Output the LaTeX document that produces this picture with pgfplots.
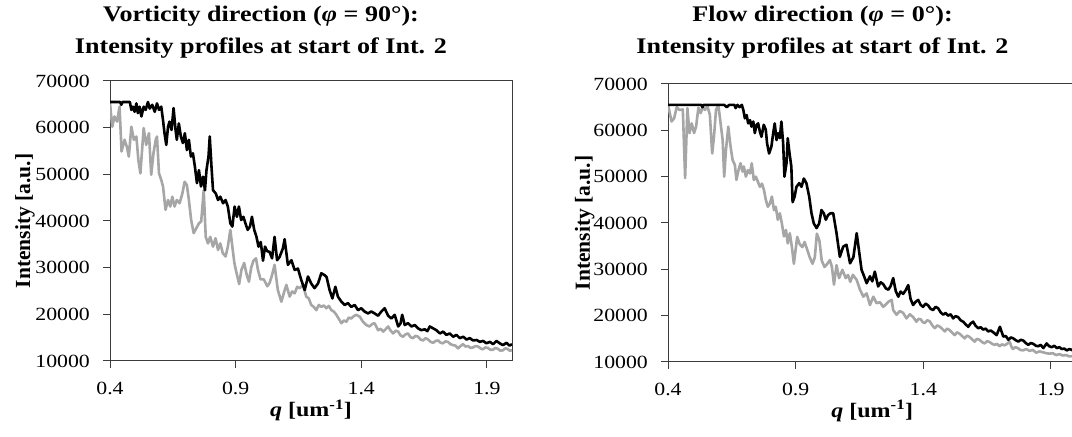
\documentclass[border=0pt]{standalone}
\usepackage{fontspec}
\setmainfont{Liberation Serif}[FakeStretch=1.17]
\newfontfamily\yfont{Liberation Serif}
\usepackage{pgfplots}
\pgfplotsset{compat=1.18}
\definecolor{lgray}{RGB}{166,166,166}
\definecolor{axgray}{RGB}{60,60,60}

\pgfplotsset{
  myaxis/.style={
    scale only axis,
    xmin=0.4, xmax=2.0, ymin=10000, ymax=70000,
    xtick={0.4,0.9,1.4,1.9}, xticklabels={0.4,0.9,1.4,1.9},
    ytick={10000,20000,30000,40000,50000,60000,70000},
    yticklabels={10000,20000,30000,40000,50000,60000,70000},
    scaled y ticks=false,
    tick align=outside, tick pos=left, major tick length=7bp,
    axis line style={axgray, line width=1bp},
    tick style={axgray, line width=1bp},
    ticklabel style={font=\fontsize{18.6bp}{20bp}\selectfont},
    yticklabel style={anchor=east, inner sep=0pt, xshift=-13bp},
    xticklabel style={anchor=base, inner sep=0pt, yshift=-27bp},
    xlabel={\textbf{\textit{q} [um\textsuperscript{-1}]}},
    ylabel={\yfont\bfseries Intensity [a.u.]},
    xlabel style={font=\fontsize{20.5bp}{24bp}\selectfont, at={(axis description cs:0.5,-0.199)}, anchor=base, inner sep=0pt},
    ylabel style={font=\fontsize{21.5bp}{24bp}\selectfont, anchor=base, inner sep=0pt},
    every axis plot/.append style={line width=2.6bp, line join=round, mark=none},
  }
}

\begin{document}
\begin{tikzpicture}[x=1bp,y=1bp]
\node[anchor=base, font=\fontsize{22.3bp}{26bp}\selectfont\bfseries] at (261,415.7) {Vorticity direction (\textit{φ} = 90°):};
\node[anchor=base, font=\fontsize{22.3bp}{26bp}\selectfont\bfseries] at (261,383.6) {Intensity profiles at start of Int. 2};
\node[anchor=base, font=\fontsize{22.3bp}{26bp}\selectfont\bfseries] at (822.5,415.7) {Flow direction (\textit{φ} = 0°):};
\node[anchor=base, font=\fontsize{22.3bp}{26bp}\selectfont\bfseries] at (822.5,383.6) {Intensity profiles at start of Int. 2};

\begin{axis}[myaxis, at={(110bp,76bp)}, anchor=south west, width=402bp, height=280bp,
  ylabel style={at={(axis description cs:-0.199,0.5)}}]
\addplot[lgray] coordinates {
(0.400,65200)(0.409,60200)(0.418,62400)(0.428,61300)(0.438,64500)(0.446,54900)(0.458,57400)(0.467,55900)(0.475,53800)(0.485,60200)(0.495,57400)(0.505,58100)(0.513,53000)(0.521,50200)(0.534,59900)(0.544,56300)(0.555,58800)(0.564,49900)(0.573,54500)(0.582,57400)(0.587,58100)(0.595,50200)(0.604,48800)(0.611,47400)(0.621,42400)(0.631,44500)(0.640,43100)(0.648,45200)(0.657,43100)(0.666,44500)(0.677,43800)(0.688,45900)(0.697,48400)(0.706,47700)(0.714,44500)(0.723,40200)(0.733,37400)(0.743,38400)(0.754,39500)(0.763,39900)(0.773,46600)(0.781,36600)(0.790,35200)(0.799,36600)(0.810,34500)(0.820,36300)(0.830,33800)(0.839,35200)(0.849,33100)(0.860,32400)(0.869,34500)(0.879,38100)(0.887,34500)(0.895,31000)(0.903,29000)(0.914,26500)(0.923,29500)(0.934,31000)(0.944,28500)(0.953,27000)(0.962,30000)(0.971,31500)(0.981,32000)(0.989,29500)(0.999,27500)(1.012,27500)(1.026,26000)(1.035,26700)(1.045,28400)(1.055,30600)(1.068,25200)(1.082,22700)(1.092,24600)(1.102,26300)(1.115,23800)(1.125,24900)(1.135,24500)(1.145,25900)(1.155,25600)(1.168,26300)(1.181,23800)(1.191,23400)(1.201,22000)(1.211,21600)(1.221,20900)(1.231,22000)(1.241,21600)(1.251,21900)(1.261,21300)(1.271,21800)(1.281,20900)(1.291,20600)(1.301,19900)(1.311,19000)(1.321,18100)(1.331,18700)(1.341,18400)(1.350,19300)(1.360,19100)(1.370,19600)(1.380,19900)(1.394,19500)(1.407,18400)(1.420,17700)(1.433,17400)(1.443,17900)(1.453,18100)(1.467,16600)(1.477,16900)(1.487,16300)(1.497,16800)(1.507,17400)(1.517,16500)(1.527,15900)(1.537,16500)(1.547,16300)(1.556,15500)(1.566,15200)(1.576,15700)(1.586,15900)(1.596,15100)(1.606,14900)(1.616,15400)(1.626,15200)(1.636,14600)(1.646,14400)(1.656,14900)(1.666,14600)(1.676,14100)(1.686,13900)(1.696,14300)(1.706,14400)(1.716,13900)(1.725,13800)(1.735,14200)(1.745,14100)(1.755,13600)(1.765,13400)(1.775,13300)(1.785,12700)(1.795,13200)(1.805,13600)(1.815,13100)(1.825,13200)(1.835,12800)(1.845,12900)(1.855,13200)(1.865,13100)(1.875,12700)(1.884,12500)(1.894,12900)(1.904,12800)(1.914,12400)(1.924,12400)(1.934,12800)(1.944,12600)(1.954,12200)(1.964,12300)(1.973,12700)(1.982,12600)(1.991,12200)(2.000,12300)
};
\addplot[black] coordinates {
(0.400,65500)(0.420,65500)(0.440,65500)(0.445,64900)(0.450,65500)(0.479,65500)(0.485,63800)(0.491,64500)(0.498,63400)(0.505,65200)(0.511,63100)(0.518,64500)(0.525,62400)(0.534,64500)(0.542,63800)(0.551,65500)(0.558,64100)(0.568,64900)(0.578,63400)(0.587,65200)(0.595,63800)(0.604,64500)(0.611,61600)(0.617,58800)(0.624,56300)(0.631,60200)(0.637,61300)(0.645,59500)(0.653,64200)(0.661,59500)(0.666,57400)(0.674,60900)(0.682,58100)(0.690,56700)(0.698,58800)(0.706,55200)(0.714,57400)(0.722,53800)(0.730,54500)(0.738,51600)(0.746,48100)(0.754,50900)(0.762,47400)(0.770,49500)(0.778,46600)(0.784,50900)(0.792,53800)(0.797,58100)(0.804,51600)(0.810,46600)(0.821,45900)(0.830,44500)(0.839,45200)(0.850,43800)(0.860,44500)(0.869,43100)(0.879,39500)(0.887,38800)(0.896,43100)(0.905,40900)(0.913,43100)(0.922,40200)(0.931,40900)(0.939,39500)(0.948,38100)(0.957,38800)(0.965,40900)(0.974,38100)(0.983,36600)(0.991,34500)(1.000,35500)(1.009,31500)(1.017,34500)(1.026,33500)(1.035,33400)(1.045,32000)(1.055,36600)(1.065,31600)(1.075,32300)(1.088,34100)(1.095,36100)(1.108,30600)(1.122,31600)(1.135,29500)(1.148,29800)(1.161,27400)(1.175,25200)(1.188,28100)(1.201,26600)(1.214,25600)(1.228,26600)(1.241,28800)(1.254,28400)(1.262,28000)(1.274,25200)(1.285,23400)(1.297,25900)(1.307,23800)(1.321,22700)(1.334,22000)(1.347,22400)(1.360,21600)(1.374,22000)(1.387,20900)(1.400,21300)(1.413,20600)(1.427,20200)(1.440,20600)(1.453,20200)(1.467,19700)(1.480,20600)(1.493,21300)(1.507,19700)(1.520,19100)(1.533,19900)(1.547,17400)(1.556,18000)(1.563,19900)(1.573,17700)(1.586,18100)(1.600,17400)(1.613,17700)(1.626,17000)(1.639,16600)(1.653,16800)(1.663,16400)(1.673,17400)(1.686,17000)(1.699,16600)(1.713,15900)(1.726,16300)(1.739,15600)(1.752,15900)(1.766,15200)(1.779,15600)(1.792,14900)(1.806,15200)(1.819,14600)(1.832,14900)(1.845,14400)(1.859,14500)(1.872,14100)(1.885,14300)(1.898,13800)(1.912,14100)(1.925,13600)(1.938,14300)(1.951,13800)(1.964,13400)(1.978,13900)(1.990,13300)(2.000,13600)
};
\end{axis}

\begin{axis}[myaxis, at={(668bp,75bp)}, anchor=south west, width=408.5bp, height=278bp,
  ylabel style={at={(axis description cs:-0.191,0.5)}}]
\addplot[lgray] coordinates {
(0.400,65500)(0.414,61900)(0.424,62600)(0.434,65000)(0.445,64400)(0.458,64500)(0.467,49700)(0.476,64800)(0.484,59400)(0.493,61500)(0.502,59400)(0.510,60800)(0.519,64900)(0.528,63700)(0.536,65000)(0.545,64400)(0.554,65300)(0.564,63300)(0.573,55000)(0.580,58600)(0.588,64400)(0.597,65500)(0.606,61500)(0.614,57900)(0.620,50000)(0.627,55800)(0.636,60800)(0.645,56500)(0.653,53600)(0.662,52500)(0.668,49300)(0.676,51400)(0.684,52900)(0.692,51100)(0.697,52200)(0.705,50000)(0.713,51400)(0.721,50700)(0.728,52900)(0.736,49300)(0.744,50000)(0.752,48900)(0.760,47800)(0.768,48500)(0.776,47100)(0.783,45000)(0.791,43500)(0.799,44200)(0.807,45700)(0.815,42800)(0.822,43500)(0.830,40700)(0.838,42100)(0.846,39900)(0.854,37100)(0.862,38500)(0.869,35600)(0.877,37800)(0.885,34900)(0.893,31200)(0.906,37000)(0.915,35500)(0.926,34800)(0.935,35900)(0.946,34100)(0.955,32600)(0.966,31200)(0.975,32600)(0.983,37700)(0.993,36200)(1.002,31900)(1.013,30500)(1.024,31200)(1.034,32000)(1.042,30500)(1.050,26700)(1.060,30900)(1.070,28100)(1.083,29900)(1.096,28100)(1.105,28800)(1.114,27300)(1.124,28800)(1.139,27700)(1.152,25600)(1.165,24100)(1.178,24800)(1.191,22300)(1.204,24100)(1.217,22700)(1.230,22900)(1.243,21900)(1.253,22400)(1.263,23000)(1.276,23400)(1.282,21200)(1.295,20200)(1.308,21000)(1.321,20600)(1.334,19400)(1.347,20300)(1.360,19700)(1.373,18700)(1.381,19300)(1.390,19200)(1.398,18600)(1.406,18400)(1.415,19000)(1.425,18800)(1.435,17900)(1.445,17300)(1.455,17900)(1.465,17600)(1.475,17100)(1.484,16600)(1.493,17200)(1.503,16900)(1.513,16300)(1.523,15800)(1.532,16400)(1.542,16100)(1.552,15600)(1.562,15100)(1.571,15700)(1.581,15400)(1.591,14900)(1.601,14400)(1.610,15000)(1.620,14800)(1.630,14300)(1.640,14000)(1.650,14500)(1.660,14300)(1.670,13900)(1.679,13700)(1.689,13900)(1.698,13400)(1.708,13800)(1.718,13600)(1.728,13900)(1.738,14400)(1.745,13300)(1.751,12800)(1.760,13200)(1.770,13000)(1.780,12600)(1.790,12500)(1.803,12800)(1.816,12400)(1.829,12600)(1.842,12000)(1.855,12300)(1.868,12100)(1.881,11900)(1.894,11800)(1.907,11900)(1.920,11500)(1.933,11700)(1.946,11400)(1.959,11500)(1.972,11200)(1.986,11300)(2.000,11000)
};
\addplot[black] coordinates {
(0.400,65500)(0.500,65500)(0.530,65500)(0.535,65000)(0.540,65500)(0.620,65500)(0.630,65000)(0.640,65500)(0.660,65500)(0.665,64800)(0.672,65500)(0.680,65000)(0.689,65500)(0.695,64400)(0.701,62600)(0.708,63300)(0.714,61500)(0.721,62200)(0.727,60800)(0.734,61900)(0.740,59400)(0.747,61200)(0.753,61500)(0.760,59700)(0.766,58600)(0.775,61200)(0.783,60100)(0.788,57200)(0.796,55000)(0.805,56500)(0.812,59400)(0.818,61500)(0.825,57900)(0.831,59400)(0.838,58300)(0.844,61900)(0.851,57200)(0.856,50000)(0.864,52900)(0.869,58300)(0.876,55000)(0.883,52200)(0.888,44500)(0.896,45700)(0.903,47800)(0.914,48600)(0.923,47800)(0.932,49600)(0.942,48600)(0.953,45700)(0.962,42100)(0.971,39900)(0.982,38900)(0.992,39900)(1.001,42800)(1.010,42100)(1.018,40700)(1.027,41700)(1.036,42100)(1.047,42100)(1.060,37800)(1.073,32700)(1.086,34900)(1.099,35300)(1.113,31300)(1.126,32600)(1.139,37800)(1.158,29900)(1.168,28500)(1.178,27000)(1.191,28500)(1.200,27400)(1.210,29500)(1.223,26300)(1.233,27200)(1.243,26800)(1.253,25900)(1.263,25600)(1.272,26400)(1.282,28100)(1.292,25300)(1.302,24100)(1.311,25200)(1.321,24700)(1.331,25500)(1.341,26600)(1.350,23600)(1.360,22300)(1.370,23000)(1.380,23400)(1.390,22300)(1.399,21900)(1.409,22600)(1.419,22200)(1.428,21500)(1.438,21200)(1.448,21900)(1.458,21600)(1.468,20700)(1.478,20200)(1.487,20600)(1.497,20000)(1.507,20300)(1.517,19400)(1.526,19900)(1.536,19700)(1.546,19000)(1.556,18700)(1.566,18100)(1.576,17600)(1.585,18300)(1.595,18700)(1.605,17800)(1.615,17300)(1.625,17500)(1.634,17000)(1.644,17200)(1.654,16600)(1.664,16800)(1.674,16400)(1.687,15800)(1.700,17600)(1.713,15500)(1.723,15600)(1.733,14800)(1.743,15300)(1.752,15100)(1.762,14700)(1.772,14400)(1.782,14800)(1.792,14600)(1.801,14100)(1.811,13700)(1.821,14100)(1.831,13900)(1.841,13500)(1.850,13400)(1.860,13700)(1.870,13000)(1.883,14000)(1.893,13400)(1.903,13200)(1.913,13500)(1.923,13000)(1.933,13200)(1.942,12800)(1.952,12900)(1.962,12500)(1.972,12800)(1.982,12600)(1.991,12300)(2.000,12400)
};
\end{axis}
\pgfresetboundingbox
\useasboundingbox (0,0) rectangle (1072,437);
\end{tikzpicture}
\end{document}
